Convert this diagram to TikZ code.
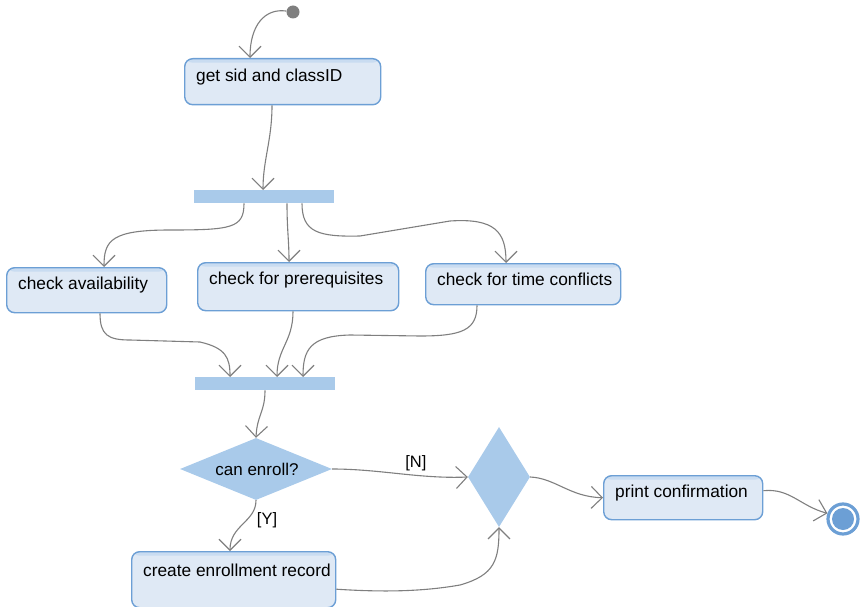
\documentclass[tikz,border=0pt]{standalone}
\usepackage{fontspec}
\setmainfont{Liberation Sans}
\usetikzlibrary{arrows.meta,shapes.geometric}
\definecolor{actfill}{HTML}{DFE9F5}
\definecolor{actline}{HTML}{6C9FD5}
\definecolor{actband}{HTML}{C9DCF1}
\definecolor{barfill}{HTML}{A9CAEA}
\definecolor{flowgray}{HTML}{7F7F7F}
\tikzset{
  act/.style={draw=actline, fill=actfill, line width=1.4pt, rounded corners=8pt,
    rectangle, inner sep=0pt, anchor=north west,
    path picture={\fill[actband] (path picture bounding box.north west) rectangle
      ([yshift=-4pt]path picture bounding box.north east);}},
  lbl/.style={anchor=base west, inner sep=0pt, font=\fontsize{17.3}{20}\selectfont},
  syncbar/.style={fill=barfill, rectangle, inner sep=0pt, anchor=north west},
  choice/.style={fill=barfill, diamond, inner sep=0pt},
  flow/.style={draw=flowgray, line width=1.1pt,
    -{Straight Barb[length=11pt,width=22pt,line width=1.1pt]}},
  guard/.style={inner sep=0pt, font=\fontsize{16.5}{19}\selectfont}
}
\begin{document}
\begin{tikzpicture}[x=1pt,y=-1pt]
\useasboundingbox (0,0) rectangle (862,607);

% start and end markers
\node[circle, fill=flowgray, minimum size=13pt, inner sep=0pt] (start) at (293,12) {};
\node[circle, draw=actline, fill=white, line width=3.2pt, minimum size=30pt, inner sep=0pt] (finish) at (843,519) {};
\node[circle, fill=actline, minimum size=22pt, inner sep=0pt] (finishdot) at (843,519) {};

% actions
\node[act, minimum width=196pt, minimum height=46pt] (get) at (184,58) {};
\node[lbl] (gett) at (196,82) {get sid and classID};

\node[act, minimum width=160pt, minimum height=45pt] (avail) at (6,267) {};
\node[lbl] (availt) at (18,289) {check availability};

\node[act, minimum width=201pt, minimum height=48pt] (prereq) at (197,262) {};
\node[lbl] (prereqt) at (209,284) {check for prerequisites};

\node[act, minimum width=195pt, minimum height=41pt] (timec) at (425,263) {};
\node[lbl] (timect) at (437,285) {check for time conflicts};

\node[act, minimum width=204pt, minimum height=56pt] (create) at (131,551) {};
\node[lbl] (createt) at (143,576) {create enrollment record};

\node[act, minimum width=159pt, minimum height=44pt] (print) at (603,475) {};
\node[lbl] (printt) at (615,497) {print confirmation};

% fork and join bars
\node[syncbar, minimum width=140pt, minimum height=13pt] (fork) at (194,190) {};
\node[syncbar, minimum width=140pt, minimum height=13pt] (join) at (195,377) {};

% decision and merge
\node[choice, minimum width=152pt, minimum height=62pt] (decide) at (256,469) {};
\node[inner sep=0pt, font=\fontsize{17}{20}\selectfont] (decidet) at (257,469) {can enroll?};
\node[choice, minimum width=62pt, minimum height=100pt] (merge) at (499,477) {};

% flows
\draw[flow] (start) .. controls (265,8) and (250,25) .. ([xshift=66pt]get.north west);
\draw[flow] ([xshift=88pt]get.south west) .. controls (272,140) and (263,160) .. ([xshift=69pt]fork.north west);

\draw[flow] ([xshift=50pt]fork.south west) .. controls (244,228) and (232,230) .. (170,230)
  .. controls (112,230) and (104,240) .. ([xshift=98pt]avail.north west);
\draw[flow] ([xshift=93pt]fork.south west) .. controls (287,230) and (289,240) .. ([xshift=92pt]prereq.north west);
\draw[flow] ([xshift=108pt]fork.south west) .. controls (302,232) and (318,237) .. (360,236)
  -- (450,221) .. controls (495,218) and (506,232) .. ([xshift=81pt]timec.north west);

\draw[flow] ([xshift=94pt]avail.south west) .. controls (100,335) and (108,340) .. (130,340)
  -- (200,342) .. controls (226,348) and (230,358) .. ([xshift=35pt]join.north west);
\draw[flow] ([xshift=96pt]prereq.south west) .. controls (293,342) and (277,348) .. ([xshift=82pt]join.north west);
\draw[flow] ([xshift=52pt]timec.south west) .. controls (477,330) and (462,336) .. (420,336)
  -- (350,335) .. controls (310,336) and (303,350) .. ([xshift=108pt]join.north west);

\draw[flow] ([xshift=70pt]join.south west) .. controls (265,412) and (257,415) .. (decide.north);
\draw[flow] (decide.east) .. controls (380,469) and (420,479) .. (merge.west)
  node[guard, pos=0.62, above=4pt] (nlabel) {[N]};
\draw[flow] (decide.south) .. controls (256,522) and (230,525) .. ([xshift=99pt]create.north west);
\node[guard] (ylabel) at (267,520) {[Y]};
\draw[flow] ([yshift=-9.5pt]create.east) .. controls (380,592) and (420,592) .. (460,585)
  .. controls (495,575) and (499,560) .. (merge.south);
\draw[flow] (merge.east) .. controls (555,478) and (570,497) .. (print.west);
\draw[flow] ([yshift=7pt]print.east) .. controls (790,488) and (800,506) .. (finish.160);
\end{tikzpicture}
\end{document}
